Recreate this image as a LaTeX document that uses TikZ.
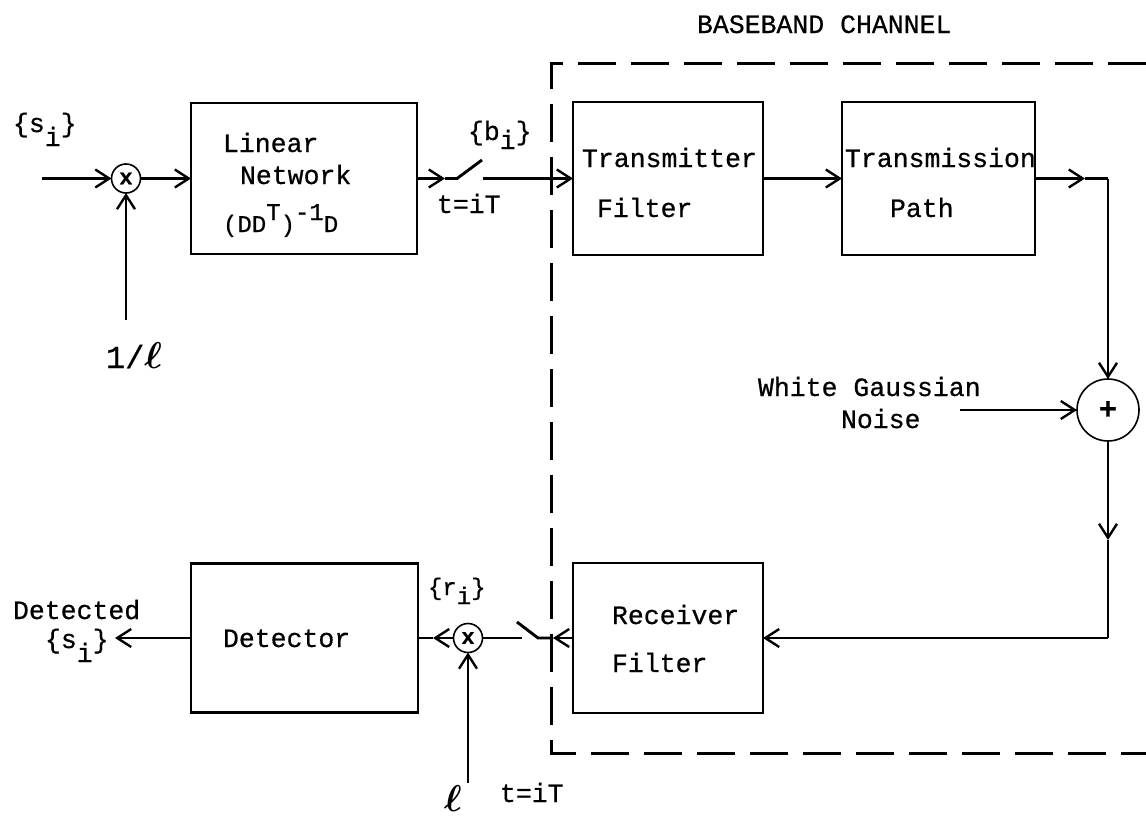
\documentclass[tikz,border=0pt]{standalone}
\usepackage{fontspec}
\usepackage{bm}
\setmainfont{Liberation Mono}[FakeBold=0.6]
\usetikzlibrary{arrows.meta}
% raised / lowered characters for indices and exponents
\newcommand{\lowch}[2][10pt]{\raisebox{-#1}{#2}}
\newcommand{\highch}[2][12pt]{\raisebox{#1}{#2}}
% the gain symbol, drawn as a large script l
\newcommand{\gainl}{\scalebox{1.5}{$\bm{\ell}$}}

\begin{document}
\begin{tikzpicture}[x=1pt,y=-1pt,
  every node/.style={font=\fontsize{26.5}{30}\selectfont, inner sep=0pt, outer sep=0pt},
  lbl/.style={anchor=base west},
  blk/.style={draw, line width=2.9pt, rectangle},
  mult/.style={draw, circle, line width=1.6pt, minimum size=29pt, font=\fontsize{22}{24}\selectfont\bfseries},
  wire/.style={line width=2.9pt},
  arr/.style={wire, -{Straight Barb[length=14pt,width=18pt,line width=2.4pt]}},
  frame/.style={line width=3pt, dash pattern=on 38pt off 15pt}
]
\useasboundingbox (0,0) rectangle (1146,819);

% ---------- baseband channel frame ----------
\node[lbl] (title) at (697,33) {BASEBAND CHANNEL};
\coordinate (frTR) at (1146,63);
\coordinate (frTL) at (551,63);
\coordinate (frBL) at (551,753);
\coordinate (frBR) at (1146,753);
\draw[frame] (frTR) -- (frTL) -- (frBL) -- (frBR);

% ---------- blocks ----------
\node[blk, minimum width=226pt, minimum height=151pt] (lnet) at (304,178.5) {};
\node[blk, minimum width=190pt, minimum height=153pt] (tf)   at (668,178.5) {};
\node[blk, minimum width=193pt, minimum height=153pt] (tp)   at (938.5,178.5) {};
\node[blk, minimum width=190pt, minimum height=150pt] (rf)   at (668,638) {};
\node[blk, minimum width=227pt, minimum height=149pt] (det)  at (304.5,638) {};

% block texts
\node[lbl] (tLin)  at (223,152) {Linear};
\node[lbl] (tNet)  at (240,184) {Network};
\node[lbl, font=\fontsize{24}{28}\selectfont] (tMat) at (223,232)
  {(DD\highch{T})\highch{-1}D};
\node[lbl] (tTr1) at (582,167) {Transmitter};
\node[lbl] (tTr2) at (597,217) {Filter};
\node[lbl] (tTp1) at (845,167) {Transmission};
\node[lbl] (tTp2) at (890,217) {Path};
\node[lbl] (tRf1) at (612,624) {Receiver};
\node[lbl] (tRf2) at (612,672) {Filter};
\node[lbl] (tDet) at (223,647) {Detector};

% ---------- summing and product junctions ----------
\node[mult] (m1) at (126,178.5) {x};
\node[mult] (m2) at (468,638) {x};
\node[draw, circle, line width=1.6pt, minimum size=62pt,
      font=\fontsize{30}{32}\selectfont\bfseries] (add) at (1108,410) {+};

% ---------- signal labels ----------
\node[lbl] (si)   at (13,132) {\{s\lowch[14pt]{i}\}};
\node[lbl] (bi)   at (468,140) {\{b\lowch[9pt]{i}\}};
\node[lbl, font=\fontsize{24}{26}\selectfont] (ri) at (428,595) {\{r\lowch[9pt]{i}\}};
\node[lbl] (tS1)  at (437,213) {t=iT};
\node[lbl] (tS2)  at (500,802) {t=iT};
\node[lbl, font=\fontsize{32}{34}\selectfont] (gain1) at (106,368) {1/\gainl};
\node[anchor=center] (gain2) at (453,799) {\gainl};
\node[lbl] (noise1) at (758,396) {White Gaussian};
\node[lbl] (noise2) at (841,428) {Noise};
\node[lbl] (outA) at (13,619) {Detected};
\node[lbl] (outB) at (45,648) {\{s\lowch[14pt]{i}\}};

% ---------- wiring: transmit side ----------
\coordinate (inS)  at (42,178.5);
\coordinate (g1S)  at (126,320);
\coordinate (sw1a) at (445,178.5);
\coordinate (sw1p) at (457,178.5);
\coordinate (sw1b) at (482,160);
\coordinate (sw1o) at (483,178.5);
\coordinate (tpA)  at (1085,178.5);
\coordinate (cTR)  at (1108,178.5);
\coordinate (nzS)  at (960,410);
\coordinate (dnA)  at (1108,540);
\coordinate (cBR)  at (1108,638);

\draw[arr] (inS) -- (m1.west);
\draw[arr] (g1S) -- (m1.south);
\draw[arr] (m1.east) -- (lnet.west);
\draw[arr] (lnet.east) -- (sw1a);
\draw[wire] (sw1a) -- (sw1p) -- (sw1b);
\draw[arr] (sw1o) -- (tf.west);
\draw[arr] (tf.east) -- (tp.west);
\draw[arr] (tp.east) -- (tpA);
\draw[wire] (tpA) -- (cTR);
\draw[arr] (cTR) -- (add.north);
\draw[arr] (nzS) -- (add.west);
\draw[arr] (add.south) -- (dnA);
\draw[wire] (dnA) -- (cBR);
\draw[arr] (cBR) -- (rf.east);

% ---------- wiring: receive side ----------
\coordinate (rfA)  at (553,638);
\coordinate (sw2p) at (538,638);
\coordinate (sw2b) at (517,622);
\coordinate (sw2o) at (522,638);
\coordinate (m2A)  at (433,638);
\coordinate (g2S)  at (468,783);
\coordinate (outT) at (115,638);

\draw[arr] (rf.west) -- (rfA);
\draw[wire] (rfA) -- (sw2p) -- (sw2b);
\draw[wire] (sw2o) -- (m2.east);
\draw[arr] (m2.west) -- (m2A);
\draw[wire] (m2A) -- (det.east);
\draw[arr] (g2S) -- (m2.south);
\draw[arr] (det.west) -- (outT);
\end{tikzpicture}
\end{document}
